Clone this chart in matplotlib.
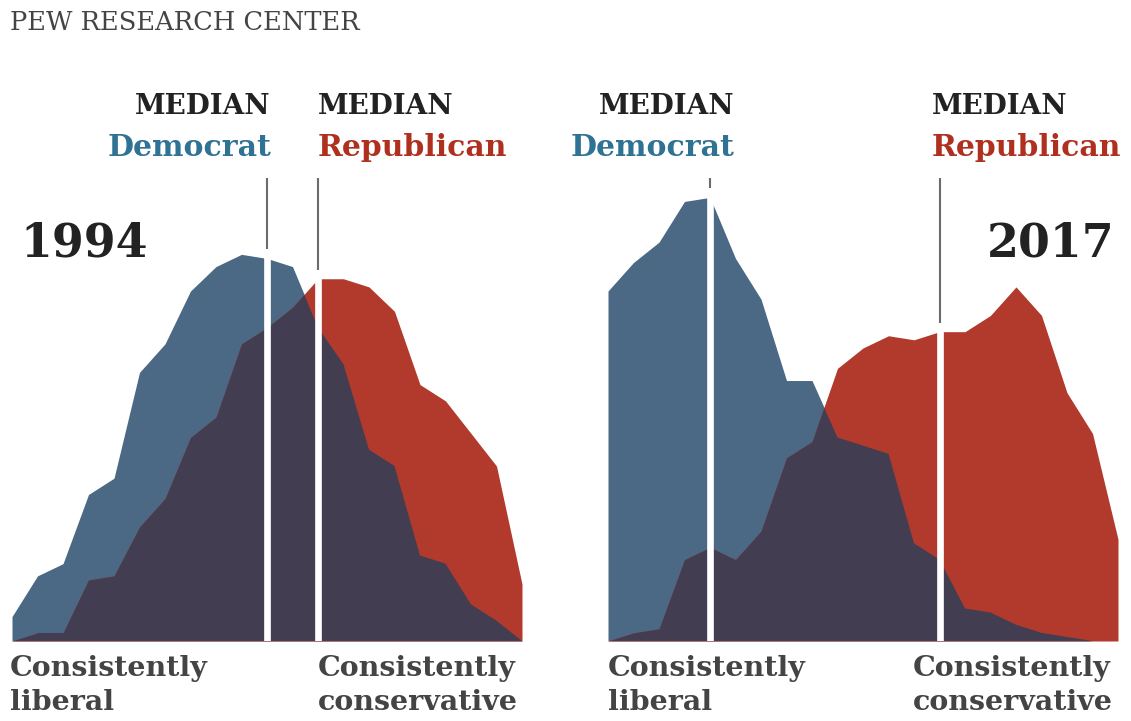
"""Pew ideological distribution of Democrats and Republicans, 1994 vs 2017."""

import numpy as np
from matplotlib import pyplot as plt


W, H = 1131, 721

# Ideological consistency scale, consistently liberal (-10) to consistently conservative (+10).
SCALE = np.arange(-10, 11)

# Share of each party at each scale point (%).
DEM_1994 = [0.6, 1.6, 1.9, 3.6, 4.0, 6.6, 7.3, 8.6, 9.2, 9.5, 9.4,
            9.2, 7.7, 6.8, 4.7, 4.3, 2.1, 1.9, 0.9, 0.5, 0.0]
REP_1994 = [0.0, 0.2, 0.2, 1.5, 1.6, 2.8, 3.5, 5.0, 5.5, 7.3, 7.7,
            8.2, 8.9, 8.9, 8.7, 8.1, 6.3, 5.9, 5.1, 4.3, 1.4]
DEM_2017 = [8.6, 9.3, 9.8, 10.8, 10.9, 9.4, 8.4, 6.4, 6.4, 5.0, 4.8,
            4.6, 2.4, 2.0, 0.8, 0.7, 0.4, 0.2, 0.1, 0.0, 0.0]
REP_2017 = [0.0, 0.2, 0.3, 2.0, 2.3, 2.0, 2.7, 4.5, 4.9, 6.7, 7.2,
            7.5, 7.4, 7.6, 7.6, 8.0, 8.7, 8.0, 6.1, 5.1, 2.5]

# Median position of each party on the scale.
MEDIANS_1994 = (0, 2)
MEDIANS_2017 = (-6, 3)

YEARS = ['1994', '2017']

BLUE = '#4b6884'
RED = '#b23a2c'
DARK = '#433d52'
DEM_TEXT = '#2f7293'
REP_TEXT = '#b0301f'
INK = '#222222'
LABEL = '#444444'
SERIF = 'DejaVu Serif'

YMAX = 12.0
GRAY_TOP = 11.38


def fx(px):
    return px / W


def fy(py):
    return 1 - py / H


def draw_panel(ax, dem, rep, medians):
    blue = ax.fill_between(SCALE, 0, dem, color=BLUE, lw=0)
    ax.fill_between(SCALE, 0, rep, color=RED, lw=0)
    dark = ax.fill_between(SCALE, 0, rep, color=DARK, lw=0)
    # overlap of the two parties is drawn dark
    dark.set_clip_path(blue.get_paths()[0], ax.transData)

    top = np.maximum(dem, rep)
    for med in medians:
        ax.axvline(med, color='white', lw=4.8, zorder=5)
        area_top = np.interp(med, SCALE, top)
        ax.vlines(med, area_top + 0.22, GRAY_TOP, color='#6b6b6b', lw=1.5, zorder=6)

    ax.set_xlim(SCALE[0], SCALE[-1])
    ax.set_ylim(0, YMAX)
    ax.axis('off')


def header(x, ha, party, color):
    fig = plt.gcf()
    fig.text(fx(x), fy(106), 'MEDIAN', family=SERIF, fontsize=20, weight='bold',
             color=INK, va='center', ha=ha)
    fig.text(fx(x), fy(148), party, family=SERIF, fontsize=21.5, weight='bold',
             color=color, va='center', ha=ha)


def _main():
    fig = plt.figure(figsize=(W / 100, H / 100), dpi=100)

    base = 641
    height = YMAX * 40.7
    ax1 = fig.add_axes([fx(12), fy(base), fx(510), height / H])
    ax2 = fig.add_axes([fx(608), fy(base), fx(510), height / H])

    draw_panel(ax1, DEM_1994, REP_1994, MEDIANS_1994)
    draw_panel(ax2, DEM_2017, REP_2017, MEDIANS_2017)

    fig.text(fx(10), fy(22), 'PEW RESEARCH CENTER', family=SERIF, fontsize=18.5,
             color='#444444', va='center', ha='left')

    header(271, 'right', 'Democrat', DEM_TEXT)
    header(318, 'left', 'Republican', REP_TEXT)
    header(734, 'right', 'Democrat', DEM_TEXT)
    header(932, 'left', 'Republican', REP_TEXT)

    fig.text(fx(20), fy(243), YEARS[0], family=SERIF, fontsize=33, weight='bold',
             color=INK, va='center', ha='left')
    fig.text(fx(1114), fy(243), YEARS[1], family=SERIF, fontsize=33, weight='bold',
             color=INK, va='center', ha='right')

    # axis end labels
    for x0, word in [(10, 'liberal'), (318, 'conservative'),
                     (608, 'liberal'), (913, 'conservative')]:
        fig.text(fx(x0), fy(668), 'Consistently', family=SERIF, fontsize=20.5,
                 weight='bold', color=LABEL, va='center', ha='left')
        fig.text(fx(x0), fy(702), word, family=SERIF, fontsize=20.5,
                 weight='bold', color=LABEL, va='center', ha='left')

    fig.savefig('out.png', dpi=100)


if __name__ == '__main__':
    _main()
